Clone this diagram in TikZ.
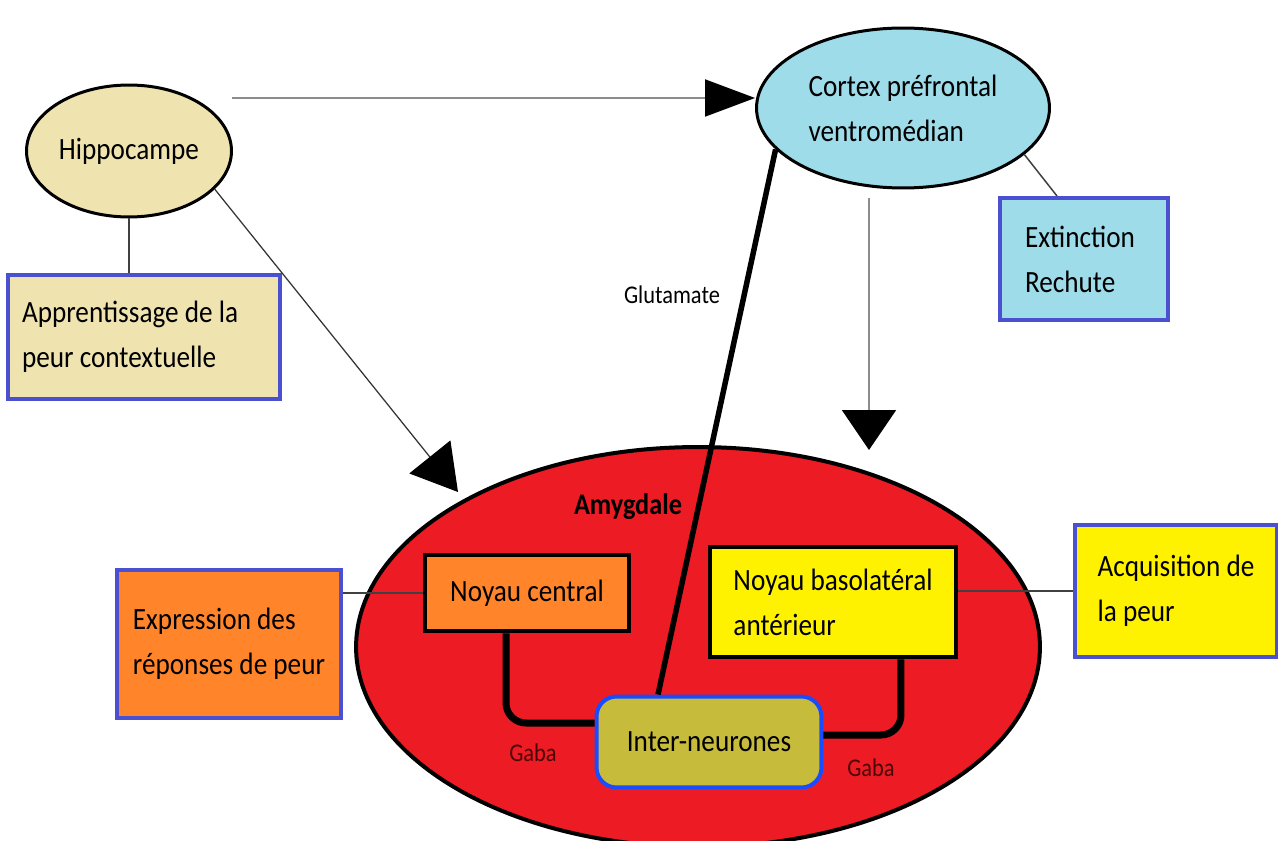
\documentclass[tikz,border=0pt]{standalone}
\usepackage{fontspec}
\setmainfont{Carlito}[FakeStretch=0.88]
\usetikzlibrary{shapes.geometric,arrows.meta}
\definecolor{beige}{HTML}{EFE4B0}
\definecolor{turq}{HTML}{9EDCEA}
\definecolor{orng}{HTML}{FF842A}
\definecolor{yell}{HTML}{FFF200}
\definecolor{amyred}{HTML}{ED1C24}
\definecolor{indigo}{HTML}{4A50D0}
\definecolor{olive2}{HTML}{C6BB3A}
\definecolor{interblue}{HTML}{1A4CFF}
\definecolor{gabared}{HTML}{4A0606}
\tikzset{
  region/.style={ellipse, draw=black, line width=0.06cm, inner sep=0pt},
  infobox/.style={rectangle, draw=indigo, line width=0.08cm, inner sep=0pt, align=left},
  nucleus/.style={rectangle, draw=black, line width=0.08cm, inner sep=0pt, align=left},
  link/.style={draw=black!75, line width=0.03cm},
  proj/.style={draw=black!45, line width=0.04cm},
  synapse/.style={line width=0.14cm, rounded corners=0.4cm},
  tag/.style={font=\fontsize{14.5}{17}\selectfont},
}
\begin{document}
\begin{tikzpicture}[x=0.02cm, y=-0.02cm, font=\fontsize{17.6}{25.6}\selectfont]
      \useasboundingbox (0,0) rectangle (1278,841);
      %%%%%%%%%%%%%%%%%%%%%%%%%%%%%%%%%%%%%%%%%%%%%%%
      \node[region, line width=0.08cm, fill=amyred, minimum width=13.68cm, minimum height=8cm] at (698,647) (amy) {};
      \node[font=\fontsize{17}{20}\selectfont\bfseries] at (628,507) (amylabel) {Amygdale};
      %%%%%%%%%%%%%%%%%%%%%%%%%%%%%%%%%%%%%%%%%%%%%%%
      \node[region, fill=beige, minimum width=4.1cm, minimum height=2.64cm] at (129,151) (hippo) {Hippocampe};
      \node[region, fill=turq, minimum width=5.86cm, minimum height=3.2cm, align=left] at (903,108) (cortex) {Cortex préfrontal\\ventromédian};
      \node[infobox, fill=beige, minimum height=2.5cm, align=flush left, text width=4.88cm, inner xsep=0.28cm] at (144,337) (appr) {Apprentissage de la\\peur contextuelle};
      \node[infobox, fill=turq, minimum height=2.44cm, align=flush left, text width=2.36cm, inner xsep=0.5cm] at (1084,259) (ext) {Extinction\\Rechute};
      \node[infobox, fill=orng, minimum width=4.5cm, minimum height=2.96cm] at (229,644) (expr) {Expression des\\réponses de peur};
      \node[infobox, fill=yell, minimum width=4.04cm, minimum height=2.64cm] at (1176,591) (acq) {Acquisition de\\la peur};
      %%%%%%%%%%%%%%%%%%%%%%%%%%%%%%%%%%%%%%%%%%%%%%%
      \node[nucleus, fill=orng, minimum width=4.1cm, minimum height=1.54cm] at (527,593) (central) {Noyau central};
      \node[nucleus, fill=yell, minimum width=4.94cm, minimum height=2.22cm] at (833,602) (baso) {Noyau basolatéral\\antérieur};
      \node[draw=interblue, fill=olive2, line width=0.08cm, rounded corners=0.4cm, minimum width=4.5cm, minimum height=1.82cm] at (709,742) (inter) {Inter-neurones};
      %%%%%%%%%%%%%%%%%%%%%%%%%%%%%%%%%%%%%%%%%%%%%%%
      \node[tag] at (672,295) (glu) {Glutamate};
      \node[tag, text=gabared] at (533,753) (gaba1) {Gaba};
      \node[tag, text=gabared] at (871,768) (gaba2) {Gaba};
      %%%%%%%%%%%%%%%%%%%%%%%%%%%%%%%%%%%%%%%%%%%%%%%
      \coordinate (hstart) at (232,98);
      \coordinate (vstart) at (869,198);
      \coordinate (vtip) at (869,450);
      \coordinate (dtip) at (458,492);
      \draw[link] (hippo.south) -- (hippo.south |- appr.north);
      \draw[link] (cortex.-21) -- ([xshift=-0.54cm]ext.north);
      \draw[link] (central.west) -- (central.west -| expr.east);
      \draw[link] (acq.west) -- (acq.west -| baso.east);
      \draw[proj, -{Triangle[length=1cm, width=0.74cm, color=black]}] (hstart) -- (hstart -| cortex.west);
      \draw[proj, -{Triangle[length=0.8cm, width=1.08cm, color=black]}] (vstart) -- (vtip);
      \draw[proj, draw=black!80, line width=0.025cm, -{Triangle[length=0.9cm, width=1.05cm, color=black]}] (hippo.-24) -- (dtip);
      %%%%%%%%%%%%%%%%%%%%%%%%%%%%%%%%%%%%%%%%%%%%%%%
      \draw[line width=0.11cm] (cortex.198) -- ([xshift=-1.02cm]inter.north);
      \draw[synapse] ([xshift=-0.42cm]central.south) |- ([yshift=0.38cm]inter.west);
      \draw[synapse] ([xshift=1.36cm]baso.south) |- ([yshift=0.14cm]inter.east);
\end{tikzpicture}
\end{document}
